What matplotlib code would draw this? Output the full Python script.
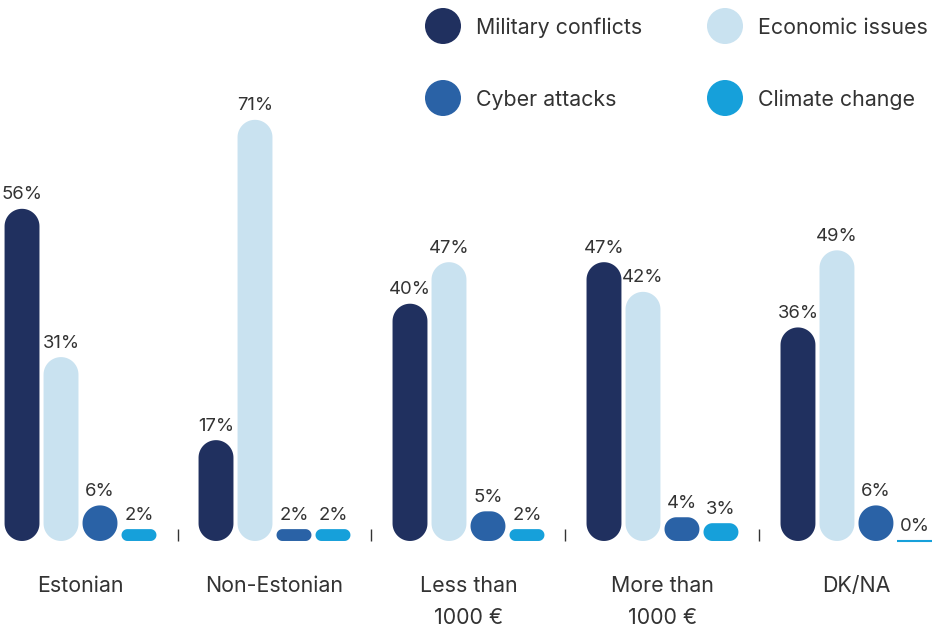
import numpy as np
import matplotlib.pyplot as plt
from matplotlib.patches import Polygon, Circle

plt.rcParams['font.family'] = ['Inter', 'DejaVu Sans']

groups = ['Estonian', 'Non-Estonian', 'Less than\n1000 €', 'More than\n1000 €', 'DK/NA']
series = ['Military conflicts', 'Economic issues', 'Cyber attacks', 'Climate change']
military = [56, 17, 40, 47, 36]
economic = [31, 71, 47, 42, 49]
cyber = [6, 2, 5, 4, 6]
climate = [2, 2, 2, 3, 0]
colors = ['#20305F', '#C9E2F0', '#2A62A6', '#16A0DA']
text_color = '#333333'

W, H = 936, 628
fig = plt.figure(figsize=(W / 100, H / 100), dpi=100)
ax = fig.add_axes([0, 0, 1, 1])
ax.set_xlim(-0.415, 4.41)
ax.set_ylim(-14.67, 91.2)
ax.axis('off')

# pixels per data unit, used to keep the rounded ends circular
xpx = W / (4.41 + 0.415)
ypx = H / (91.2 + 14.67)

bar_w = 0.18
step = 0.201
offsets = (np.arange(4) - 1.5) * step


def capsule(x, h):
    """Outline of a bar from 0 to h with semicircular ends."""
    r = min(bar_w * xpx, h * ypx) / 2
    rx, ry = r / xpx, r / ypx
    hw = bar_w / 2
    t = np.linspace(0, np.pi / 2, 20)
    pts = []
    # top right, top left, bottom left, bottom right corners
    for cx, cy, a0 in [(x + hw - rx, h - ry, 0), (x - hw + rx, h - ry, np.pi / 2),
                       (x - hw + rx, ry, np.pi), (x + hw - rx, ry, 1.5 * np.pi)]:
        a = a0 + t
        pts.append(np.column_stack([cx + rx * np.cos(a), cy + ry * np.sin(a)]))
    return np.vstack(pts)


for s, (vals, col) in enumerate(zip([military, economic, cyber, climate], colors)):
    for g, v in enumerate(vals):
        x = g + offsets[s]
        if v == 0:
            ax.plot([x - bar_w / 2, x + bar_w / 2], [0, 0], color=col, lw=1.5,
                    solid_capstyle='butt')
        else:
            ax.add_patch(Polygon(capsule(x, v), closed=True, fc=col, ec='none'))
        ax.annotate(f'{v}%', (x, v), xytext=(0, 4), textcoords='offset points',
                    ha='center', va='bottom', fontsize=13.3, color=text_color)

# small separators between groups
ax.vlines(np.arange(4) + 0.5, 0, 2, color=text_color, lw=1)

# group labels, one text per line
for g, lab in enumerate(groups):
    for i, line in enumerate(lab.split('\n')):
        ax.text(g, -7.55 - i * 32 / ypx, line, ha='center', va='center',
                fontsize=15.4, color=text_color)

# legend in pixel space
leg = fig.add_axes([0, 0, 1, 1])
leg.set_xlim(0, W)
leg.set_ylim(H, 0)
leg.axis('off')
leg_pos = [(443, 26), (725, 26), (443, 98), (725, 98)]
for (cx, cy), name, col in zip(leg_pos, series, colors):
    leg.add_patch(Circle((cx, cy), 18, fc=col, ec='none'))
    leg.text(cx + 33, cy + 1.5, name, ha='left', va='center', fontsize=15.4,
             color=text_color)

fig.savefig('out.png', dpi=100)
